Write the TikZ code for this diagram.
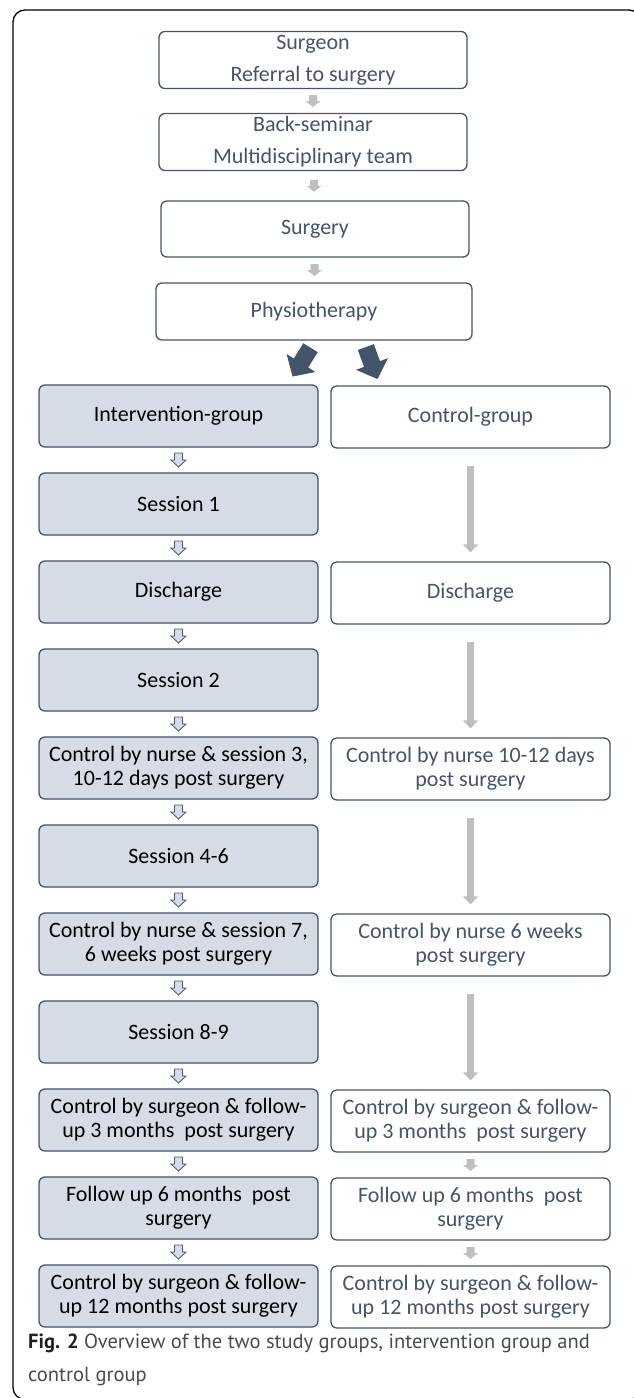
\documentclass[tikz,border=0pt]{standalone}
\usepackage{fontspec}
\setmainfont{Carlito}
\newfontfamily\capfont{PT Sans}
\usetikzlibrary{arrows.meta,calc}
\definecolor{slate}{HTML}{44546A}
\definecolor{lfill}{HTML}{D6DCE5}
\definecolor{agrey}{HTML}{BFBFBF}
\definecolor{capgrey}{HTML}{4A4A4A}
\definecolor{capdark}{HTML}{231F20}
\begin{document}
\begin{tikzpicture}[x=1pt,y=-1pt,
  box/.style={draw=slate, line width=1.3pt, rounded corners=6pt, align=center,
    font=\fontsize{22}{24}\selectfont, inner sep=0pt},
  topbox/.style={box, fill=white, text=slate, minimum width=308pt, minimum height=57pt},
  lbox/.style={box, fill=lfill, text=black, minimum width=279pt, minimum height=62pt},
  rbox/.style={box, fill=white, text=slate, minimum width=279pt, minimum height=62pt},
  longarrow/.style={agrey, line width=7pt, -{Triangle[width=15pt,length=8pt]},
    shorten <=17pt, shorten >=9pt},
  harrow/.pic={\draw[slate, fill=lfill, line width=0.8pt]
    (-4,-7) -- (4,-7) -- (4,0) -- (7.5,0) -- (0,7) -- (-7.5,0) -- (-4,0) -- cycle;},
  garrow/.pic={\fill[agrey]
    (-4,-6) -- (4,-6) -- (4,0) -- (7.5,0) -- (0,6) -- (-7.5,0) -- (-4,0) -- cycle;},
  bigarrow/.pic={\fill[slate]
    (-8.5,-18) -- (8.5,-18) -- (8.5,0) -- (17,0) -- (0,16) -- (-17,0) -- (-8.5,0) -- cycle;}
]
\useasboundingbox (0,0) rectangle (634,1398);
\begin{scope}
\clip (0,0) rectangle (634,1398);
\draw[line width=1.3pt, rounded corners=12pt] (13,10) rectangle (641,1399.5);
\end{scope}

% top column
\node[topbox] (t1) at (313,60) {Surgeon\\[8pt]Referral to surgery};
\node[topbox] (t2) at (313,142) {Back-seminar\\[8pt]Multidisciplinary team};
\node[topbox, minimum height=56pt] (t3) at (315,229) {Surgery};
\node[topbox, minimum width=316pt] (t4) at (314,311.5) {Physiotherapy};
\path ($(t1.south)!0.5!(t2.north)$) pic {garrow};
\path ($(t2.south)!0.5!(t3.north)$) pic {garrow};
\path ($(t3.south)!0.5!(t4.north)$) pic {garrow};

% split arrows
\path (301,363) pic[rotate=-32] {bigarrow};
\path (372,364) pic[rotate=20] {bigarrow};

% left column
\node[lbox] (l1) at (178.5,416) {Intervention-group};
\node[lbox] (l2) at (178.5,504) {Session 1};
\node[lbox] (l3) at (178.5,592) {Discharge};
\node[lbox] (l4) at (178.5,680) {Session 2};
\node[lbox] (l5) at (178.5,768) {Control by nurse \& session 3,\\10-12 days post surgery};
\node[lbox] (l6) at (178.5,856) {Session 4-6};
\node[lbox] (l7) at (178.5,944) {Control by nurse \& session 7,\\6 weeks post surgery};
\node[lbox] (l8) at (178.5,1032) {Session 8-9};
\node[lbox] (l9) at (178.5,1120) {Control by surgeon \& follow-\\up 3 months\ \ post surgery};
\node[lbox] (l10) at (178.5,1208) {Follow up 6 months\ \ post\\surgery};
\node[lbox] (l11) at (178.5,1296) {Control by surgeon \& follow-\\up 12 months post surgery};
\foreach \a/\b in {l1/l2,l2/l3,l3/l4,l4/l5,l5/l6,l6/l7,l7/l8,l8/l9,l9/l10,l10/l11}
  \path ($(\a.south)!0.5!(\b.north)$) pic {harrow};

% right column
\node[rbox] (r1) at (470.5,417) {Control-group};
\node[rbox] (r2) at (470.5,593) {Discharge};
\node[rbox] (r3) at (470.5,769) {Control by nurse 10-12 days\\post surgery};
\node[rbox] (r4) at (470.5,945) {Control by nurse 6 weeks\\post surgery};
\node[rbox] (r5) at (470.5,1121) {Control by surgeon \& follow-\\up 3 months\ \ post surgery};
\node[rbox] (r6) at (470.5,1209) {Follow up 6 months\ \ post\\surgery};
\node[rbox] (r7) at (470.5,1297) {Control by surgeon \& follow-\\up 12 months post surgery};
\foreach \a/\b in {r1/r2,r2/r3,r3/r4,r4/r5}
  \draw[longarrow] (\a.south) -- (\b.north);
\path ($(r5.south)!0.5!(r6.north)$) pic {garrow};
\path ($(r6.south)!0.5!(r7.north)$) pic {garrow};

% caption
\node[anchor=base west, inner sep=0pt, font=\capfont\fontsize{20.5}{24}\selectfont, text=capgrey] (cap1) at (28,1348)
  {\textcolor{capdark}{\textbf{Fig. 2}} Overview of the two study groups, intervention group and};
\node[anchor=base west, inner sep=0pt, font=\capfont\fontsize{20.5}{24}\selectfont, text=capgrey] (cap2) at (28,1381)
  {control group};
\end{tikzpicture}
\end{document}
